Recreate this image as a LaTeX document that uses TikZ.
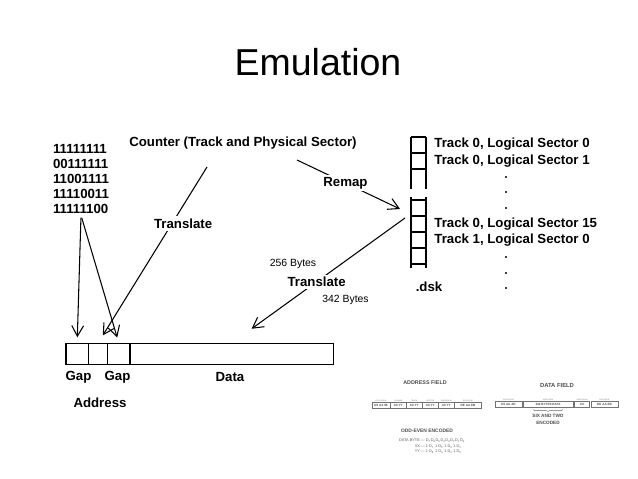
\documentclass[tikz,border=0pt]{standalone}
\usepackage{fontspec}
\setmainfont{Liberation Sans}
\usetikzlibrary{arrows.meta,positioning,calc,decorations.pathreplacing}
\newcommand{\Dsub}[1]{D\textsubscript{#1}}

\begin{document}
\begin{tikzpicture}[x=0.03cm, y=-0.03cm,
  lbl/.style={font=\fontsize{11.3}{13}\selectfont\bfseries, inner sep=1pt},
  cover/.style={lbl, fill=white, inner sep=2pt},
  note/.style={font=\fontsize{8.9}{10}\selectfont, inner sep=1pt},
  field/.style={rectangle, draw, line width=1pt, outer sep=0pt, inner sep=0pt,
                minimum height=0.651cm},
  rung/.style={line width=0.9pt},
  farr/.style={-{Straight Barb[length=9pt,width=10pt]}, line width=0.9pt},
  ftitle/.style={font=\fontsize{4.6}{5}\selectfont\bfseries, text=black!70, inner sep=0pt},
  fcell/.style={rectangle, draw=black!55, line width=0.35pt, outer sep=0pt, inner sep=0pt,
                minimum height=0.19cm, font=\fontsize{2.6}{3}\selectfont\bfseries, text=black!70},
  ftag/.style={font=\fontsize{1.6}{2}\selectfont, text=black!55, inner sep=0.4pt}
]
\useasboundingbox (0,0) rectangle (638,479);

% Title
\node[font=\fontsize{32}{38}\selectfont] (title) at (318,62) {Emulation};

% Bit patterns and counter
\node[lbl, align=left, font=\fontsize{11.3}{12.97}\selectfont\bfseries] (bits) at (81,179)
  {11111111\\00111111\\11001111\\11110011\\11111100};
\node[lbl] (counter) at (243,143) {Counter (Track and Physical Sector)};

% Sector record
\node[field, minimum width=0.669cm, anchor=west] (gap1) at (66,354) {};
\node[field, minimum width=0.582cm, right=0pt of gap1] (addr) {};
\node[field, minimum width=0.669cm, right=0pt of addr] (gap2) {};
\node[field, minimum width=6.1cm,   right=0pt of gap2] (data) {};
\node[lbl] (gap1 lbl) at (78.5,377) {Gap};
\node[lbl] (gap2 lbl) at (117.5,377) {Gap};
\node[lbl] (data lbl) at (230,377) {Data};
\node[lbl] (addr lbl) at (100,403) {Address};

% Disk image
\draw[rung] (411,137) -- (411,189) (426,137) -- (426,189);
\foreach \y in {137,153,169} \draw[rung] (411,\y) -- (426,\y);
\draw[rung] (411,197) -- (411,268) (426,197) -- (426,268);
\foreach \y in {200,216,232,248,264} \draw[rung] (411,\y) -- (426,\y);
\node[lbl, anchor=west] (t00)  at (433,144) {Track 0, Logical Sector 0};
\node[lbl, anchor=west] (t01)  at (433,161) {Track 0, Logical Sector 1};
\node[lbl, anchor=west] (t015) at (433,224) {Track 0, Logical Sector 15};
\node[lbl, anchor=west] (t10)  at (433,240) {Track 1, Logical Sector 0};
\foreach \y in {177,192,208,257,273,288} \fill (506,\y) circle[radius=0.9pt];
\node[lbl] (dsk) at (429,287) {.dsk};

\coordinate (cnt r) at (297,160);
\coordinate (cnt t) at (207,167);
\coordinate (dsk in) at (400,209);
\coordinate (dsk out) at (405,218);

% Arrows
\draw[farr, shorten <=2pt, shorten >=5pt] (bits.south) -- (gap1.north);
\draw[farr, shorten <=2pt, shorten >=5pt] (bits.south) -- (gap2.north);
\draw[farr] (cnt r) -- node[cover, pos=.47] (remap) {Remap} (dsk in);
\draw[farr, shorten >=7.8pt] (cnt t) -- node[cover, pos=.32, xshift=0.33cm] (trans a) {Translate} (addr.north);
\draw[farr, shorten >=21pt] (dsk out) -- node[cover, pos=.51] (trans b) {Translate} (data.north);
\node[note] (b256) at (293,263.5) {256 Bytes};
\node[note] (b342) at (345.5,300) {342 Bytes};

% Address field
\node[ftitle] (addr field) at (425,383) {ADDRESS FIELD};
\node[fcell, minimum width=0.54cm, anchor=west, label={[ftag]above:PROLOGUE}] (af1) at (372,405) {D5 AA 96};
\node[fcell, minimum width=0.465cm, right=0.015cm of af1, label={[ftag]above:VOLUME}] (af2) {XX YY};
\node[fcell, minimum width=0.465cm, right=0.015cm of af2, label={[ftag]above:TRACK}] (af3) {XX YY};
\node[fcell, minimum width=0.465cm, right=0.015cm of af3, label={[ftag]above:SECTOR}] (af4) {XX YY};
\node[fcell, minimum width=0.465cm, right=0.015cm of af4, label={[ftag]above:CHECKSUM}] (af5) {XX YY};
\node[fcell, minimum width=0.81cm, right=0.015cm of af5, label={[ftag]above:EPILOGUE}] (af6) {DE AA EB};

% Data field
\node[ftitle, font=\fontsize{5}{6}\selectfont\bfseries] (data field) at (557,385) {DATA FIELD};
\node[fcell, minimum width=0.81cm, anchor=west, label={[ftag]above:PROLOGUE}] (df1) at (495,404.5) {D5 AA AD};
\node[fcell, minimum width=1.5cm, right=0.03cm of df1, label={[ftag]above:USER DATA}] (df2) {342 BYTES DATA};
\node[fcell, minimum width=0.45cm, right=0.045cm of df2, label={[ftag]above:CHECKSUM}] (df3) {XX};
\node[fcell, minimum width=0.81cm, right=0.045cm of df3, label={[ftag]above:EPILOGUE}] (df4) {DE AA EB};
\draw[decorate, decoration={brace, mirror, amplitude=1.5pt}, line width=0.35pt, black!60]
  ($(df2.south west)+(10,2)$) -- ($(df2.south east)+(-10,2)$);
\node[ftitle, align=center, font=\fontsize{4}{5.6}\selectfont\bfseries] (sixtwo) at (548,419.5) {SIX AND TWO\\ENCODED};

% Odd-even encoding
\node[ftitle, font=\fontsize{4.2}{5}\selectfont\bfseries] (oddeven) at (427,431) {ODD-EVEN ENCODED};
\node[ftag, font=\fontsize{3.3}{4.7}\selectfont, text=black!65] (bytes) at (432,446)
  {\begin{tabular}{@{}r@{ --- }l@{}}
   DATA BYTE & \Dsub7\Dsub6\Dsub5\Dsub4\Dsub3\Dsub2\Dsub1\Dsub0\\
   XX & 1 \Dsub7 1 \Dsub5 1 \Dsub3 1 \Dsub1\\
   YY & 1 \Dsub6 1 \Dsub4 1 \Dsub2 1 \Dsub0
   \end{tabular}};
\end{tikzpicture}
\end{document}
